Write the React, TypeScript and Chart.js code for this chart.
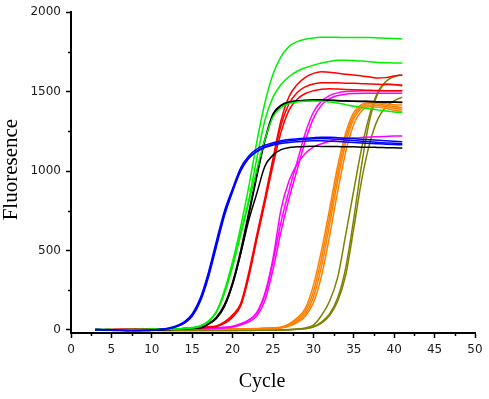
import React, { useEffect, useRef } from "react";
import { Chart, registerables } from "chart.js";

Chart.register(...registerables);

const CYCLES = [3,4,5,6,7,8,9,10,11,12,13,14,15,16,17,18,19,20,21,22,23,24,25,26,27,28,29,30,31,32,33,34,35,36,37,38,39,40,41];

const BLUE_1 = [2,1,0,-2,-4,-5,-4,-2,3,10,24,50,100,200,360,560,750,890,1020,1095,1138,1162,1178,1190,1198,1203,1207,1210,1212,1212,1210,1207,1204,1200,1197,1194,1191,1188,1185];
const BLUE_2 = [0,-1,-3,-5,-6,-6,-5,-3,1,7,18,40,85,178,330,525,720,870,1000,1080,1125,1152,1170,1182,1190,1196,1200,1203,1204,1203,1200,1196,1192,1188,1184,1180,1177,1175,1172];
const BLUE_3 = [1,0,-1,-3,-4,-5,-3,-1,2,8,20,45,92,188,345,540,735,878,1005,1082,1122,1148,1163,1173,1180,1185,1188,1190,1190,1188,1186,1183,1180,1177,1174,1171,1169,1167,1165];

const GREEN_1 = [0,1,2,1,0,1,2,3,3,4,5,8,12,22,50,115,250,430,650,900,1185,1430,1610,1720,1785,1815,1830,1838,1842,1843,1842,1840,1840,1841,1840,1838,1836,1834,1832];
const GREEN_2 = [1,2,1,0,1,2,2,3,4,4,6,9,13,24,52,112,235,405,610,820,1080,1320,1465,1545,1595,1628,1650,1666,1680,1690,1697,1698,1696,1692,1688,1684,1681,1680,1680];
const GREEN_3 = [0,1,0,1,2,1,2,3,3,5,6,9,14,25,55,115,232,400,600,800,1010,1200,1340,1400,1425,1435,1440,1441,1440,1435,1428,1418,1408,1400,1392,1385,1378,1372,1368];

const BLACK_1 = [3,2,1,0,-1,-2,-1,0,1,3,5,8,12,18,40,80,160,300,500,740,980,1200,1360,1415,1435,1442,1445,1448,1448,1446,1444,1442,1440,1440,1438,1436,1435,1434,1433];
const BLACK_2 = [1,0,-1,-2,-3,-3,-2,-1,0,2,4,7,10,16,36,72,148,285,480,720,965,1190,1352,1410,1432,1440,1444,1446,1446,1445,1443,1441,1439,1438,1437,1435,1434,1433,1432];
const BLACK_3 = [2,1,0,-1,-2,-3,-2,-1,1,2,4,6,9,12,35,75,150,290,480,690,860,1030,1100,1135,1148,1152,1155,1156,1155,1155,1154,1152,1152,1150,1150,1148,1147,1146,1145];

const RED_1 = [0,0,1,1,2,2,3,3,4,5,6,8,10,14,19,25,50,95,165,360,600,830,1080,1320,1470,1545,1590,1615,1625,1622,1615,1610,1605,1598,1592,1585,1588,1598,1605];
const RED_2 = [0,1,1,2,2,3,3,4,4,5,6,7,9,12,17,23,45,88,158,345,585,815,1060,1290,1425,1495,1530,1548,1555,1556,1555,1553,1552,1550,1548,1546,1545,1543,1542];
const RED_3 = [1,1,2,2,3,3,4,4,5,5,6,7,8,11,15,20,40,80,150,330,570,800,1035,1245,1385,1452,1488,1505,1515,1518,1516,1514,1512,1510,1508,1507,1506,1505,1505];

const MAGENTA_1 = [0,1,1,2,2,3,3,4,4,5,5,6,7,8,9,10,14,22,38,62,105,220,430,680,880,1060,1240,1370,1440,1475,1492,1500,1503,1505,1506,1506,1506,1505,1505];
const MAGENTA_2 = [0,0,1,1,2,2,3,3,4,4,5,5,6,7,8,9,12,18,30,50,88,185,380,620,830,1010,1190,1330,1415,1455,1475,1484,1488,1490,1490,1490,1490,1490,1490];
const MAGENTA_3 = [1,1,2,2,3,3,4,4,5,5,6,7,8,9,11,13,16,20,35,60,110,230,450,760,940,1045,1110,1150,1172,1188,1198,1204,1208,1211,1214,1216,1218,1220,1221];

const ORANGE_1 = [0,1,1,1,2,2,2,3,3,3,4,4,4,5,5,5,6,6,7,7,8,10,12,18,38,75,135,280,500,760,1030,1240,1370,1420,1432,1430,1424,1418,1415];
const ORANGE_2 = [1,1,0,1,1,2,2,2,3,3,3,4,4,4,5,5,5,6,6,7,7,9,11,15,32,65,118,240,450,710,985,1210,1350,1410,1425,1422,1414,1406,1400];
const ORANGE_3 = [0,0,1,1,1,2,2,2,2,3,3,3,4,4,4,5,5,5,6,6,7,8,10,13,28,55,100,205,400,660,940,1175,1330,1398,1415,1412,1404,1395,1388];
const ORANGE_4 = [1,1,1,2,2,2,3,3,3,3,4,4,4,5,5,5,5,6,6,7,7,8,9,12,24,46,85,170,340,590,870,1120,1295,1380,1405,1402,1393,1383,1375];

const OLIVE_1 = [-2,-2,-3,-3,-3,-4,-4,-4,-4,-5,-5,-5,-5,-5,-5,-5,-5,-4,-4,-4,-3,-3,-2,0,2,5,12,30,90,180,330,600,880,1150,1360,1500,1565,1595,1605];
const OLIVE_2 = [-1,-1,-2,-2,-2,-3,-3,-3,-3,-4,-4,-4,-4,-4,-4,-4,-4,-4,-3,-3,-3,-2,-2,-1,0,3,8,20,48,100,200,390,700,1050,1330,1490,1548,1545,1535];
const OLIVE_3 = [0,-1,-1,-1,-2,-2,-2,-3,-3,-3,-3,-3,-3,-3,-3,-3,-3,-3,-2,-2,-2,-1,-1,0,1,3,7,18,42,90,180,345,640,950,1180,1330,1405,1442,1465];

const SERIES: { values: number[]; color: string }[] = [
  { values: BLUE_1, color: "#0000ff" },
  { values: BLUE_2, color: "#0000ff" },
  { values: BLUE_3, color: "#0000ff" },
  { values: GREEN_1, color: "#00f000" },
  { values: GREEN_2, color: "#00f000" },
  { values: GREEN_3, color: "#00f000" },
  { values: BLACK_1, color: "#000000" },
  { values: BLACK_2, color: "#000000" },
  { values: BLACK_3, color: "#000000" },
  { values: RED_1, color: "#ff0000" },
  { values: RED_2, color: "#ff0000" },
  { values: RED_3, color: "#ff0000" },
  { values: MAGENTA_1, color: "#ff00ff" },
  { values: MAGENTA_2, color: "#ff00ff" },
  { values: MAGENTA_3, color: "#ff00ff" },
  { values: ORANGE_1, color: "#ff8000" },
  { values: ORANGE_2, color: "#ff8000" },
  { values: ORANGE_3, color: "#ff8000" },
  { values: ORANGE_4, color: "#ff8000" },
  { values: OLIVE_1, color: "#808000" },
  { values: OLIVE_2, color: "#808000" },
  { values: OLIVE_3, color: "#808000" },
];

const X_TICKS = [0,5,10,15,20,25,30,35,40,45,50];
const X_MINOR = [2.5,7.5,12.5,17.5,22.5,27.5,32.5,37.5,42.5,47.5];
const Y_TICKS = [0,500,1000,1500,2000];
const Y_MINOR = [250,750,1250,1750];
const X_TITLE = "Cycle";
const Y_TITLE = "Fluoresence";

const extras = {
  id: "extras",
  afterDraw(chart: any) {
    const { ctx, chartArea, scales } = chart;
    const x = scales.x;
    const y = scales.y;
    ctx.save();
    ctx.strokeStyle = "#000";
    ctx.lineWidth = 1.5;
    for (const v of X_MINOR) {
      const px = Math.round(x.getPixelForValue(v)) + 0.5;
      ctx.beginPath();
      ctx.moveTo(px, chartArea.bottom);
      ctx.lineTo(px, chartArea.bottom + 3);
      ctx.stroke();
    }
    for (const v of Y_MINOR) {
      const py = Math.round(y.getPixelForValue(v)) + 0.5;
      ctx.beginPath();
      ctx.moveTo(chartArea.left, py);
      ctx.lineTo(chartArea.left - 3, py);
      ctx.stroke();
    }
    ctx.fillStyle = "#000";
    ctx.font = '20px "Liberation Serif", "Times New Roman", serif';
    ctx.textAlign = "center";
    ctx.textBaseline = "alphabetic";
    ctx.fillText(X_TITLE, (chartArea.left + chartArea.right) / 2 - 11, 387);
    ctx.translate(17, (chartArea.top + chartArea.bottom) / 2 - 3);
    ctx.rotate(-Math.PI / 2);
    ctx.font = '21px "Liberation Serif", "Times New Roman", serif';
    ctx.fillText(Y_TITLE, 0, 0);
    ctx.restore();
  },
};

export default function App() {
  const ref = useRef<HTMLCanvasElement | null>(null);
  useEffect(() => {
    if (!ref.current) return;
    const tickFont = { family: '"DejaVu Sans", sans-serif', size: 12 };
    const chart = new Chart(ref.current, {
      type: "line",
      data: {
        datasets: SERIES.map((s) => ({
          data: CYCLES.map((c, i) => ({ x: c, y: s.values[i] })),
          borderColor: s.color,
          backgroundColor: s.color,
          borderWidth: 1.5,
          pointRadius: 0,
          fill: false,
          cubicInterpolationMode: "monotone" as const,
        })),
      },
      options: {
        animation: false,
        responsive: false,
        events: [],
        layout: { padding: { top: 8, right: 14, left: 0, bottom: 0 } },
        plugins: { legend: { display: false }, tooltip: { enabled: false }, title: { display: false } },
        scales: {
          x: {
            type: "linear",
            min: 0,
            max: 50,
            afterBuildTicks: (scale: any) => {
              scale.ticks = X_TICKS.map((v) => ({ value: v }));
            },
            afterFit: (scale: any) => {
              scale.height = 66;
            },
            ticks: { font: tickFont, color: "#1a1a1a", padding: 5, maxRotation: 0, autoSkip: false, callback: (v: any) => String(v) },
            grid: { display: true, drawOnChartArea: false, drawTicks: true, tickLength: 5, tickColor: "#000", tickWidth: 1.5 },
            border: { display: true, color: "#000", width: 2 },
          },
          y: {
            type: "linear",
            min: -20,
            max: 2000,
            afterBuildTicks: (scale: any) => {
              scale.ticks = Y_TICKS.map((v) => ({ value: v }));
            },
            afterFit: (scale: any) => {
              scale.width = 71;
            },
            ticks: { font: tickFont, color: "#1a1a1a", padding: 5, autoSkip: false, callback: (v: any) => String(v) },
            grid: { display: true, drawOnChartArea: false, drawTicks: true, tickLength: 5, tickColor: "#000", tickWidth: 1.5 },
            border: { display: true, color: "#000", width: 2 },
          },
        },
      },
      plugins: [extras],
    });
    return () => chart.destroy();
  }, []);
  return (
    <div style={{ position: "absolute", left: 0, top: 0, width: 489, height: 399, background: "#fff" }}>
      <canvas ref={ref} width={489} height={399} style={{ width: 489, height: 399, display: "block" }} />
    </div>
  );
}
